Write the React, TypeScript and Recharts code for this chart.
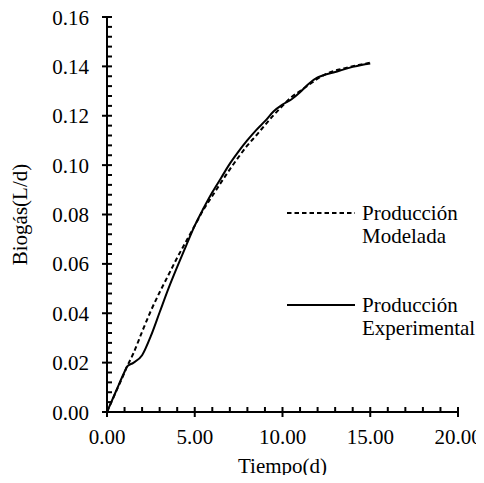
import { LineChart, Line, XAxis, YAxis, Legend } from 'recharts';

// Tiempo (d)
const time = [0, 0.5, 1, 1.15, 1.5, 2, 2.5, 3, 3.5, 4, 4.5, 5, 5.5, 6, 6.5, 7, 7.5, 8, 8.5, 9, 9.5, 10, 10.5, 11, 11.5, 12, 12.5, 13, 13.5, 14, 14.5, 15];

// Biogás (L/d)
const modelada = [0, 0.008, 0.016, 0.0185, 0.0237, 0.0325, 0.041, 0.0485, 0.0555, 0.0625, 0.069, 0.0755, 0.082, 0.0875, 0.093, 0.0983, 0.1033, 0.108, 0.112, 0.1162, 0.1203, 0.124, 0.1275, 0.13, 0.1325, 0.135, 0.137, 0.1383, 0.1392, 0.1401, 0.1408, 0.1415];
const experimental = [0, 0.0082, 0.0163, 0.0185, 0.0199, 0.023, 0.0308, 0.0404, 0.05, 0.0588, 0.0672, 0.0755, 0.0825, 0.089, 0.0948, 0.1006, 0.1056, 0.1101, 0.1142, 0.1178, 0.1218, 0.1245, 0.1266, 0.1295, 0.133, 0.1355, 0.1368, 0.1377, 0.1388, 0.1398, 0.1406, 0.1412];

const seriesNames = ['Producción Modelada', 'Producción Experimental'];

const xMajor = [0, 5, 10, 15, 20];
const yMajor = [0, 0.02, 0.04, 0.06, 0.08, 0.1, 0.12, 0.14, 0.16];
const X_MINOR = 1;
const Y_MINOR = 0.004;

const data = time.map((t, i) => ({ t, modelada: modelada[i], experimental: experimental[i] }));

const xTicks: number[] = [];
for (let i = 0; i <= (xMajor[xMajor.length - 1] / X_MINOR); i++) xTicks.push(+(i * X_MINOR).toFixed(3));
const yTicks: number[] = [];
for (let i = 0; i <= Math.round(yMajor[yMajor.length - 1] / Y_MINOR); i++) yTicks.push(+(i * Y_MINOR).toFixed(4));

const FONT = "'Liberation Serif', 'Times New Roman', serif";
const INK = '#000';

const isMajor = (v: number, list: number[]) => list.some((m) => Math.abs(m - v) < 1e-9);

function YTick(props: any) {
  const { x, y, payload } = props;
  const major = isMajor(payload.value, yMajor);
  return (
    <g>
      <line x1={major ? x - 5 : x} x2={x + 5} y1={y} y2={y} stroke={INK} strokeWidth={2} />
      {major && (
        <text x={x - 18} y={y + 7.5} textAnchor="end" style={{ fontFamily: FONT }} fontSize={21} fill={INK}>
          {payload.value.toFixed(2)}
        </text>
      )}
    </g>
  );
}

function XTick(props: any) {
  const { x, y, payload } = props;
  const major = isMajor(payload.value, xMajor);
  return (
    <g>
      <line x1={x} x2={x} y1={y - 5} y2={major ? y + 5 : y} stroke={INK} strokeWidth={2} />
      {major && (
        <text x={x} y={y + 32} textAnchor="middle" style={{ fontFamily: FONT }} fontSize={21} fill={INK}>
          {payload.value.toFixed(2)}
        </text>
      )}
    </g>
  );
}

function LegendBox(props: any) {
  const payload = [...(props.payload || [])].sort(
    (a: any, b: any) => seriesNames.indexOf(a.value) - seriesNames.indexOf(b.value)
  );
  return (
    <svg width={200} height={150}>
      {payload.map((entry: any, i: number) => {
        const cy = 23 + i * 92;
        const words = String(entry.value).split(' ');
        return (
          <g key={entry.value}>
            <line x1={7} x2={75} y1={cy} y2={cy} stroke={INK} strokeWidth={2} strokeDasharray={entry.payload?.strokeDasharray} />
            <text x={82} y={cy + 7} style={{ fontFamily: FONT }} fontSize={21} fill={INK}>
              {words.map((w, k) => (
                <tspan key={k} x={82} dy={k === 0 ? 0 : 23}>{w}</tspan>
              ))}
            </text>
          </g>
        );
      })}
    </svg>
  );
}

export default function App() {
  return (
    <div style={{ margin: -8, background: '#fff', width: 484, height: 483 }}>
      <LineChart width={484} height={483} data={data} margin={{ top: 17, right: 26, bottom: 0, left: 0 }}>
        <XAxis
          dataKey="t"
          type="number"
          domain={[0, 20]}
          ticks={xTicks}
          interval={0}
          height={71}
          tickSize={0}
          tickMargin={0}
          tickLine={false}
          axisLine={{ stroke: INK, strokeWidth: 2 }}
          tick={<XTick />}
          label={{ value: 'Tiempo(d)', position: 'insideBottom', offset: 10, style: { fontFamily: FONT, fontSize: 21, fill: INK } }}
        />
        <YAxis
          type="number"
          domain={[0, 0.16]}
          ticks={yTicks}
          interval={0}
          width={107}
          tickSize={0}
          tickMargin={0}
          tickLine={false}
          axisLine={{ stroke: INK, strokeWidth: 2 }}
          tick={<YTick />}
          label={{ value: 'Biogás(L/d)', angle: -90, position: 'insideLeft', offset: 20, style: { textAnchor: 'middle', fontFamily: FONT, fontSize: 21, fill: INK } }}
        />
        <Legend
          layout="vertical"
          align="center"
          verticalAlign="middle"
          wrapperStyle={{ top: 190, left: 280, width: 200, height: 150 }}
          content={<LegendBox />}
        />
        <Line
          dataKey="modelada"
          name={seriesNames[0]}
          type="monotone"
          stroke={INK}
          strokeWidth={2}
          strokeDasharray="4.5 3"
          dot={false}
          isAnimationActive={false}
        />
        <Line
          dataKey="experimental"
          name={seriesNames[1]}
          type="monotone"
          stroke={INK}
          strokeWidth={2}
          dot={false}
          isAnimationActive={false}
        />
      </LineChart>
    </div>
  );
}
